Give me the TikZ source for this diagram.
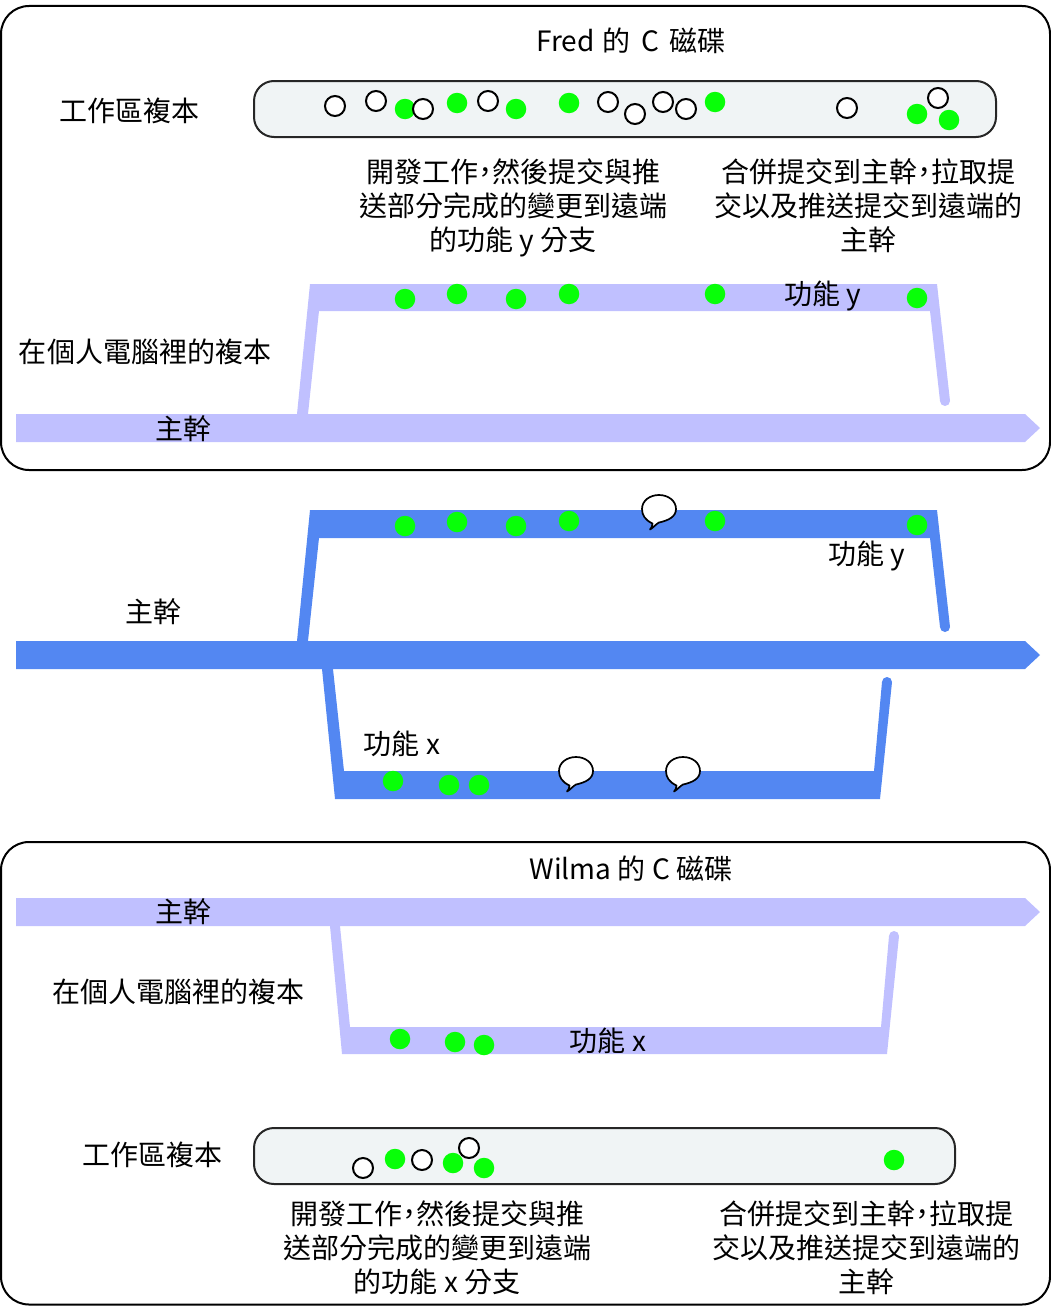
\documentclass[tikz,border=0pt]{standalone}
\usepackage{fontspec}
\setmainfont{Noto Sans CJK TC}
\newcommand{\cjkcomma}{\makebox[14pt][c]{\char"FF0C}}
\definecolor{paleflow}{HTML}{C0C0FF}
\definecolor{flowblue}{HTML}{5387F2}
\definecolor{commitgreen}{HTML}{08FF08}
\definecolor{diskfill}{HTML}{F0F4F5}
\tikzset{
  lbl/.style={inner sep=0pt,align=center,text=black,font=\fontsize{28}{34}\selectfont},
  frame/.style={draw=black,line width=2pt,rounded corners=28pt},
  disk/.style={draw=black!85,line width=2pt,fill=diskfill,rounded corners=20pt},
  gdot/.style={circle,fill=commitgreen,minimum size=20.5pt,inner sep=0pt},
  wdot/.style={circle,fill=white,draw=black,line width=2pt,minimum size=20pt,inner sep=0pt},
  pale/.style={fill=paleflow},
  strong/.style={fill=flowblue},
}
\newcommand{\speech}[2]{%
  \begin{scope}[shift={(#1,#2)}]
    \draw[fill=white,draw=black,line width=1.7pt,line join=round]
      (-6.5,13.5) .. controls (-14,10) and (-17,5) .. (-17,-1)
      .. controls (-17,-9.5) and (-9,-15) .. (0,-15)
      .. controls (9.5,-15) and (17,-9) .. (17,-1)
      .. controls (17,7) and (9,10.5) .. (0,12.5)
      .. controls (-3,14) and (-6,18) .. (-9,19.5)
      .. controls (-7.5,18) and (-6.5,16) .. (-6.5,13.5) -- cycle;
  \end{scope}}
\newcommand{\mainarrow}[3]{\fill[#1] (16,#2) -- (1025,#2) -- (1040,#2+14) -- (1025,#3) -- (16,#3) -- cycle;}
\begin{document}
\begin{tikzpicture}[x=1pt,y=-1pt]
\useasboundingbox (0,0) rectangle (1051,1306);
% frames
\draw[frame] (1,6) rectangle (1050,470);
\draw[frame] (1,842) rectangle (1050,1304.5);
\draw[disk] (254,81) rectangle (996,137);
\draw[disk] (254,1128) rectangle (955,1184);
% branches: Fred
\mainarrow{pale}{414}{442}
\fill[pale] (297,414) -- (310,284) -- (937,284)
  -- (950,401) arc[start angle=0,end angle=180,radius=5] -- (930,311) -- (319,311) -- (308,414) -- cycle;
% branches: central
\mainarrow{strong}{641}{669}
\fill[strong] (297,641) -- (310,510) -- (937,510)
  -- (950,627) arc[start angle=0,end angle=180,radius=5] -- (930,538) -- (319,538) -- (308,641) -- cycle;
\fill[strong] (322,669) -- (333,669) -- (344,771) -- (874,771) -- (882,682)
  arc[start angle=180,end angle=360,radius=5] -- (880,799) -- (335,799) -- cycle;
% branches: Wilma
\mainarrow{pale}{898}{926}
\fill[pale] (330,926) -- (340,926) -- (350,1027) -- (881,1027) -- (889,936)
  arc[start angle=180,end angle=360,radius=5] -- (887,1054) -- (342,1054) -- cycle;
% commits
\node[gdot] at (405,109) {};
\foreach \u/\v in {335/106,376/101,423/109,488/101,608/102,635/114,663/102,686/109,847/108,938/98,
  363/1168,422/1160}{\node[wdot] at (\u,\v) {};}
\foreach \u/\v in {457/103,516/109,569/103,715/102,917/114,949/120,
  405/299,457/294,516/299,569/294,715/294,917/298,
  405/526,457/522,516/526,569/521,715/521,917/525,
  393/781,449/785,479/785,
  400/1039,455/1042,484/1045,
  395/1159,453/1163,484/1168,894/1160}{\node[gdot] at (\u,\v) {};}
\node[wdot] at (469,1148) {};
\speech{659}{510}
\speech{576}{772}
\speech{683}{772}
% labels
\node[lbl] (t1) at (631,41) {Fred\hspace{1.5pt} 的 \,C\hspace{4pt} 磁碟};
\node[lbl] (t2) at (129,111) {工作區複本};
\node[lbl] (t3) at (513,208) {開發工作\cjkcomma 然後提交與推\\送部分完成的變更到遠端\\的功能 y 分支};
\node[lbl] (t4) at (868,206) {合併提交到主幹\cjkcomma 拉取提\\交以及推送提交到遠端的\\主幹};
\node[lbl] (t5) at (823,296) {功能 y};
\node[lbl] (t6) at (145,352) {在個人電腦裡的複本};
\node[lbl] (t7) at (183,429) {主幹};
\node[lbl] (t8) at (867,556) {功能 y};
\node[lbl] (t9) at (153,612) {主幹};
\node[lbl] (t10) at (402,744) {功能 x};
\node[lbl] (t11) at (631,869) {Wilma 的 C 磁碟};
\node[lbl] (t12) at (183,912) {主幹};
\node[lbl] (t13) at (178,992) {在個人電腦裡的複本};
\node[lbl] (t14) at (608,1041) {功能 x};
\node[lbl] (t15) at (152,1155) {工作區複本};
\node[lbl] (t16) at (437,1248) {開發工作\cjkcomma 然後提交與推\\送部分完成的變更到遠端\\的功能 x 分支};
\node[lbl] (t17) at (866,1248) {合併提交到主幹\cjkcomma 拉取提\\交以及推送提交到遠端的\\主幹};
\end{tikzpicture}
\end{document}
